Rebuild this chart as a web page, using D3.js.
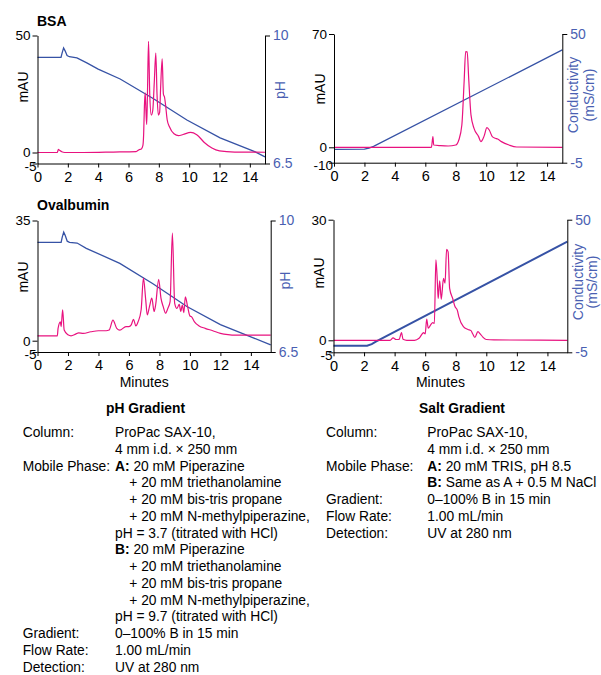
<!DOCTYPE html>
<html lang="en">
<head>
<meta charset="utf-8">
<title>ProPac SAX-10: pH gradient vs salt gradient</title>
<script src="https://d3js.org/d3.v7.min.js"></script>
<style>
  body { margin: 0; background: #fff; }
  svg { display: block; font-family: "Liberation Sans", Arial, sans-serif; }
</style>
</head>
<body>
<script>
// ---- data (time in minutes) ----
var minuteTicks = [0, 2, 4, 6, 8, 10, 12, 14];

// BSA, pH gradient
var bsaAbs = [[0,0],[1.3,0],[1.38,1.3],[1.45,1.0],[1.6,0.3],[1.8,0],[3,0],[5,0.2],[6.5,0.4],[6.7,1.2],[6.85,1.5],
  [6.95,3],[7.0,8],[7.05,20],[7.1,25.5],[7.15,18],[7.2,12],[7.25,25],[7.32,47.5],[7.4,25],[7.5,16],[7.6,18],
  [7.7,30],[7.8,42.5],[7.88,25],[7.97,16],[8.05,17],[8.12,28],[8.22,40],[8.3,25],[8.38,23.5],[8.45,20],
  [8.55,14],[8.7,11],[9.0,8],[9.3,7.2],[9.6,7.7],[10.1,8.6],[10.5,7.6],[11.0,4.3],[11.5,1.9],[12,0.7],[13,0.2],[15,0.1]];
var bsaPh = [[0,9.40],[1.55,9.40],[1.62,9.52],[1.72,9.66],[1.82,9.58],[1.95,9.45],[2.1,9.42],[2.6,9.39],
  [3.25,9.25],[4,9.08],[5.45,8.81],[7.65,8.27],[9.85,7.69],[12.04,7.20],[14.24,6.84],[15,6.68]];

// Ovalbumin, pH gradient
var ovaAbs = [[0,1.4],[1.3,1.4],[1.35,3.6],[1.5,5.5],[1.55,4.1],[1.65,9],[1.75,3.1],[2.0,1.7],[2.2,1.4],[2.5,1.9],
  [2.7,2.3],[3.0,2.15],[3.5,2.6],[4.0,2.9],[4.5,2.9],[4.7,3.1],[4.95,6.0],[5.2,3.6],[5.4,3.1],[5.8,4.1],[6.0,4.1],
  [6.15,4.6],[6.3,6.2],[6.45,4.3],[6.6,5.5],[6.8,9],[6.95,18.2],[7.1,11.9],[7.2,7.5],[7.35,10],[7.5,12.4],
  [7.65,8.5],[7.75,10.4],[7.95,17.9],[8.1,12.4],[8.25,9.9],[8.4,8],[8.55,9.4],[8.7,11.4],[8.85,31.3],[9.0,10.9],
  [9.15,9.4],[9.3,10.6],[9.4,8.5],[9.5,10.4],[9.6,8.2],[9.7,12.8],[9.85,9.9],[10.0,7.2],[10.1,7],[10.3,5.5],
  [10.6,4.3],[11.0,3.6],[11.5,2.9],[12.0,2.15],[12.5,1.75],[13.0,1.6],[14.0,1.6],[15.3,1.6]];
var ovaPh = [[0,9.42],[1.55,9.42],[1.62,9.55],[1.72,9.69],[1.82,9.6],[1.95,9.45],[2.1,9.42],[2.6,9.40],
  [3.2,9.26],[5.4,8.86],[7.6,8.31],[9.8,7.71],[12.0,7.23],[14.2,6.87],[15.3,6.69]];

// BSA, salt gradient
var bsaSaltAbs = [[0,0],[6.4,0],[6.5,6.6],[6.55,1.4],[7.0,1.0],[7.5,0.8],[8.0,1.4],[8.2,4.5],[8.4,13.8],
  [8.55,40.6],[8.65,59.1],[8.75,59],[8.85,42.6],[9.0,20],[9.2,11.7],[9.5,6.6],[9.65,3.5],[9.85,6.6],
  [10.05,12.1],[10.2,10.7],[10.4,6.6],[10.6,5.6],[10.75,5.1],[11.0,3.5],[11.5,1.4],[12,0.2],[15,0]];
var bsaSaltCond = [[0,0.7],[2.0,0.8],[2.3,1.2],[2.6,2.0],[15,43.2]];

// Ovalbumin, salt gradient
var ovaSaltAbs = [[0,0],[3.7,0],[3.9,0.6],[4.1,0.2],[4.3,0.25],[4.45,1.9],[4.55,0.25],[4.8,0],[5.3,0],
  [5.6,0.5],[5.9,1.9],[6.0,1.6],[6.1,5.3],[6.2,3.0],[6.35,3.8],[6.5,4.4],[6.6,4.2],[6.7,20],[6.8,14.2],
  [6.85,10.4],[6.95,14.8],[7.05,10.2],[7.2,15.4],[7.3,14.2],[7.4,22.6],[7.5,22],[7.6,12.9],[7.8,10.4],
  [7.95,8.4],[8.1,7.5],[8.2,5.9],[8.5,3.4],[8.8,2.7],[9.0,2.4],[9.1,1.7],[9.25,0.7],[9.45,2.15],[9.6,1.6],
  [9.8,0.7],[10.0,0.2],[10.5,0.1],[15.3,0]];
var ovaSaltCond = [[0,-2.3],[2.2,-2.3],[2.5,-1.6],[2.8,-0.5],[15.3,40.9]];

// axis ticks
var bsaAbsTicks = [-5, 0, 50], ovaAbsTicks = [-5, 0, 35];
var bsaSaltAbsTicks = [-10, 0, 70], ovaSaltAbsTicks = [-5, 0, 30];
var phTicks = [6.5, 10], condTicks = [-5, 50];

// method text
var phRows = [
  ["Column:", "ProPac SAX-10,"], ["", "4 mm i.d. \u00d7 250 mm"],
  ["Mobile Phase:", "A: 20 mM Piperazine"], ["", "+ 20 mM triethanolamine"], ["", "+ 20 mM bis-tris propane"],
  ["", "+ 20 mM N-methylpiperazine,"], ["", "pH = 3.7 (titrated with HCl)"],
  ["", "B: 20 mM Piperazine"], ["", "+ 20 mM triethanolamine"], ["", "+ 20 mM bis-tris propane"],
  ["", "+ 20 mM N-methylpiperazine,"], ["", "pH = 9.7 (titrated with HCl)"],
  ["Gradient:", "0\u2013100% B in 15 min"], ["Flow Rate:", "1.00 mL/min"], ["Detection:", "UV at 280 nm"]];
var saltRows = [
  ["Column:", "ProPac SAX-10,"], ["", "4 mm i.d. \u00d7 250 mm"],
  ["Mobile Phase:", "A: 20 mM TRIS, pH 8.5"], ["", "B: Same as A + 0.5 M NaCl"],
  ["Gradient:", "0\u2013100% B in 15 min"], ["Flow Rate:", "1.00 mL/min"], ["Detection:", "UV at 280 nm"]];

var pink = "#e8127f", blue = "#3652a5", blueText = "#4a5fb2";

var svg = d3.select("body").append("svg").attr("width", 601).attr("height", 675);

function panel(o) {
  var g = svg.append("g");
  var x = d3.scaleLinear().domain([0, o.xMax]).range([o.x0, o.x1]);
  // left scale is piecewise, as in the original figure
  var yL = d3.scaleLinear().domain(o.leftTicks).range(o.leftRange);
  var yR = d3.scaleLinear().domain(o.rightTicks).range([o.yBot, o.yTop]);

  var gradLine = d3.line()
    .x(function(d) { return x(d[0]); })
    .y(function(d) { return yR(d[1]); });
  var absLine = d3.line().curve(d3.curveMonotoneX)
    .x(function(d) { return x(d[0]); })
    .y(function(d) { return yL(d[1]); });

  g.append("path").datum(o.right)
    .attr("fill", "none").attr("stroke", blue).attr("stroke-width", o.blueWidth || 1.3)
    .attr("d", gradLine);
  g.append("path").datum(o.abs)
    .attr("fill", "none").attr("stroke", pink).attr("stroke-width", 1.2)
    .attr("d", absLine);

  var ax = g.append("g").attr("transform", "translate(0," + o.yBot + ")")
    .call(d3.axisBottom(x).tickValues(minuteTicks).tickSize(4).tickPadding(4).tickSizeOuter(0));
  ax.selectAll("text").attr("font-size", 14.5);

  var al = g.append("g").attr("transform", "translate(" + o.x0 + ",0)")
    .call(d3.axisLeft(yL).tickValues(o.leftTicks).tickFormat(String)
      .tickSize(5).tickPadding(2).tickSizeOuter(0));
  al.selectAll("text").attr("font-size", 13.5)
    .filter(function(d) { return d === o.leftTicks[0]; })
    .attr("x", -1).attr("y", 2.5).attr("dy", "0.32em");

  var ar = g.append("g").attr("transform", "translate(" + o.x1 + ",0)")
    .call(d3.axisRight(yR).tickValues(o.rightTicks).tickFormat(String)
      .tickSize(5).tickPadding(3).tickSizeOuter(0));
  ar.selectAll("text").attr("font-size", 14).attr("fill", blueText);

  [ax, al, ar].forEach(function(a) {
    a.attr("font-family", null).attr("font-size", null);
    a.selectAll("path, line").attr("stroke", "#000");
  });

  g.append("text").attr("transform", "translate(" + (o.x0 - 9.3) + "," + o.mauY + ") rotate(-90)")
    .attr("text-anchor", "middle").attr("font-size", 14).text("mAU");

  o.rightLabel.forEach(function(t, i) {
    g.append("text")
      .attr("transform", "translate(" + (o.x1 + o.rightLabelDx[i]) + "," + o.rightLabelY + ") rotate(-90)")
      .attr("text-anchor", "middle").attr("font-size", 14).attr("fill", blueText).text(t);
  });

  if (o.title) {
    g.append("text").attr("x", 37).attr("y", o.titleY)
      .attr("font-size", 14).attr("font-weight", "bold").text(o.title);
  }
  if (o.minutes) {
    g.append("text").attr("x", x(7)).attr("y", o.yBot + 35)
      .attr("text-anchor", "middle").attr("font-size", 14).text("Minutes");
  }
}

panel({ x0: 37.5, x1: 265, xMax: 15, yTop: 35.5, yBot: 163.5,
  leftTicks: bsaAbsTicks, leftRange: [163.5, 152.5, 35.5], rightTicks: phTicks,
  abs: bsaAbs, right: bsaPh, mauY: 87, rightLabel: ["pH"], rightLabelDx: [20], rightLabelY: 90,
  title: "BSA", titleY: 25.5 });

panel({ x0: 334, x1: 562.3, xMax: 15, yTop: 34, yBot: 162.7,
  leftTicks: bsaSaltAbsTicks, leftRange: [162.7, 147.3, 34], rightTicks: condTicks,
  abs: bsaSaltAbs, right: bsaSaltCond, mauY: 89,
  rightLabel: ["Conductivity", "(mS/cm)"], rightLabelDx: [15.7, 31.5], rightLabelY: 95 });

panel({ x0: 37.5, x1: 270.7, xMax: 15.3, yTop: 220.5, yBot: 352,
  leftTicks: ovaAbsTicks, leftRange: [352, 340.7, 220.5], rightTicks: phTicks,
  abs: ovaAbs, right: ovaPh, mauY: 277, rightLabel: ["pH"], rightLabelDx: [19.5], rightLabelY: 280.5,
  title: "Ovalbumin", titleY: 209.5, minutes: true });

panel({ x0: 333.5, x1: 567.3, xMax: 15.3, yTop: 219.7, yBot: 352.3,
  leftTicks: ovaSaltAbsTicks, leftRange: [352.3, 340.3, 219.7], rightTicks: condTicks,
  abs: ovaSaltAbs, right: ovaSaltCond, mauY: 273, blueWidth: 2,
  rightLabel: ["Conductivity", "(mS/cm)"], rightLabelDx: [15.4, 30], rightLabelY: 282, minutes: true });

// ---- method blocks ----
function methods(title, cx, rows, labelX, valueX, indentX) {
  var g = svg.append("g").attr("font-size", 13.8);
  g.append("text").attr("x", cx).attr("y", 413).attr("text-anchor", "middle")
    .attr("font-weight", "bold").text(title);
  rows.forEach(function(r, i) {
    var y = 437 + 16.75 * i;
    if (r[0]) g.append("text").attr("x", labelX).attr("y", y).text(r[0]);
    var v = r[1];
    var t = g.append("text").attr("x", v.charAt(0) === "+" ? indentX : valueX).attr("y", y);
    var m = /^([AB]:)(.*)$/.exec(v);
    if (m) {
      t.append("tspan").attr("font-weight", "bold").text(m[1]);
      t.append("tspan").text(m[2]);
    } else {
      t.text(v);
    }
  });
}

methods("pH Gradient", 145.5, phRows, 22.7, 115, 129.3);
methods("Salt Gradient", 462, saltRows, 326, 427.3, 427.3);
</script>
</body>
</html>
